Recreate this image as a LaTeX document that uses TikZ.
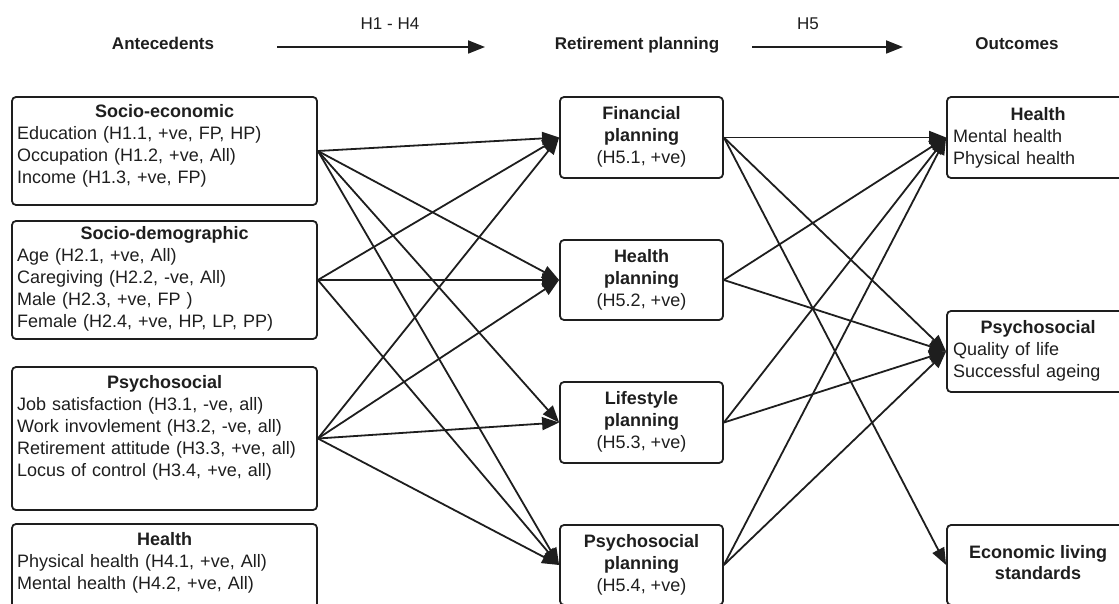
\documentclass[tikz,border=0pt]{standalone}
\usepackage{fontspec}
\setmainfont{Liberation Sans}
\usetikzlibrary{arrows.meta}
\definecolor{ink}{HTML}{1E1E1E}
\begin{document}
\begin{tikzpicture}[x=1pt,y=-1pt,
  box/.style={draw=ink, line width=1.8pt, rounded corners=4pt, inner sep=0pt},
  txt/.style={inner sep=0pt, text=ink, font=\fontsize{18}{22}\selectfont},
  head/.style={inner sep=0pt, text=ink, font=\fontsize{17}{20}\selectfont},
  arr/.style={draw=ink, line width=1.8pt, -{Triangle[length=17pt,width=13pt]}}]
\useasboundingbox (0,0) rectangle (1119,604);
\clip (0,0) rectangle (1119,604);
% header
\node[head, anchor=base] (hA) at (163,50) {\bfseries Antecedents};
\node[head, anchor=base] (hR) at (637,50) {\bfseries Retirement planning};
\node[head, anchor=base] (hO) at (1017,50) {\bfseries Outcomes};
\node[head, anchor=base] (hH14) at (390,30) {H1 - H4};
\node[head, anchor=base] (hH5) at (808,30) {H5};
\coordinate (a1s) at (277,47);
\coordinate (a1e) at (485,47);
\coordinate (a2s) at (752,47);
\coordinate (a2e) at (903,47);
\draw[arr] (a1s) -- (a1e);
\draw[arr] (a2s) -- (a2e);
% left boxes
\node[box, minimum width=305pt, minimum height=108pt] (se) at (164.5,151) {};
\node[box, minimum width=305pt, minimum height=118pt] (sd) at (164.5,280) {};
\node[box, minimum width=305pt, minimum height=143pt] (ps) at (164.5,438.5) {};
\node[box, minimum width=305pt, minimum height=86pt] (he) at (164.5,567) {};
\node[txt, anchor=north west, text width=295pt, align=left] (se-t) at (17,104)
  {\makebox[295pt]{\bfseries Socio-economic}\\Education (H1.1, +ve, FP, HP)\\Occupation (H1.2, +ve, All)\\Income (H1.3, +ve, FP)};
\node[txt, anchor=north west, text width=295pt, align=left] (sd-t) at (17,226)
  {\makebox[295pt]{\bfseries Socio-demographic}\\Age (H2.1, +ve, All)\\Caregiving (H2.2, -ve, All)\\Male (H2.3, +ve, FP )\\Female (H2.4, +ve, HP, LP, PP)};
\node[txt, anchor=north west, text width=295pt, align=left] (ps-t) at (17,375)
  {\makebox[295pt]{\bfseries Psychosocial}\\Job satisfaction (H3.1, -ve, all)\\Work invovlement (H3.2, -ve, all)\\Retirement attitude (H3.3, +ve, all)\\Locus of control (H3.4, +ve, all)};
\node[txt, anchor=north west, text width=295pt, align=left] (he-t) at (17,532)
  {\makebox[295pt]{\bfseries Health}\\Physical health (H4.1, +ve, All)\\Mental health (H4.2, +ve, All)};
% middle boxes
\node[box, minimum width=163pt, minimum height=81pt] (fp) at (641.5,137.5) {};
\node[box, minimum width=163pt, minimum height=80pt] (hp) at (641.5,280) {};
\node[box, minimum width=163pt, minimum height=81pt] (lp) at (641.5,422.5) {};
\node[box, minimum width=163pt, minimum height=80pt] (pp) at (641.5,565) {};
\node[txt, anchor=north, align=center] (fp-t) at (641.5,106) {\textbf{Financial}\\\textbf{planning}\\(H5.1, +ve)};
\node[txt, anchor=north, align=center] (hp-t) at (641.5,249) {\textbf{Health}\\\textbf{planning}\\(H5.2, +ve)};
\node[txt, anchor=north, align=center] (lp-t) at (641.5,391) {\textbf{Lifestyle}\\\textbf{planning}\\(H5.3, +ve)};
\node[txt, anchor=north, align=center] (pp-t) at (641.5,534) {\textbf{Psychosocial}\\\textbf{planning}\\(H5.4, +ve)};
% right boxes
\node[box, minimum width=182pt, minimum height=81pt] (oh) at (1038,137.5) {};
\node[box, minimum width=182pt, minimum height=81pt] (op) at (1038,351.5) {};
\node[box, minimum width=182pt, minimum height=80pt] (oe) at (1038,565) {};
\node[txt, anchor=north west, text width=170pt, align=left] (oh-t) at (953,107)
  {\makebox[170pt]{\bfseries Health}\\Mental health\\Physical health};
\node[txt, anchor=north west, text width=170pt, align=left] (op-t) at (953,320)
  {\makebox[170pt]{\bfseries Psychosocial}\\Quality of life\\Successful ageing};
\node[txt, anchor=north, align=center, font=\fontsize{18}{21}\selectfont\bfseries] (oe-t) at (1038,545)
  {Economic living\\standards};
% connectors left -> middle
\draw[arr] (se.east) -- (fp.west);
\draw[arr] (se.east) -- (hp.west);
\draw[arr] (se.east) -- (lp.west);
\draw[arr] (se.east) -- (pp.west);
\draw[arr] (sd.east) -- (fp.west);
\draw[arr] (sd.east) -- (hp.west);
\draw[arr] (sd.east) -- (pp.west);
\draw[arr] (ps.east) -- (fp.west);
\draw[arr] (ps.east) -- (hp.west);
\draw[arr] (ps.east) -- (lp.west);
\draw[arr] (ps.east) -- (pp.west);
% connectors middle -> right
\draw[arr] (fp.east) -- (oh.west);
\draw[arr] (fp.east) -- (op.west);
\draw[arr] (fp.east) -- (oe.west);
\draw[arr] (hp.east) -- (oh.west);
\draw[arr] (hp.east) -- (op.west);
\draw[arr] (lp.east) -- (oh.west);
\draw[arr] (lp.east) -- (op.west);
\draw[arr] (pp.east) -- (oh.west);
\draw[arr] (pp.east) -- (op.west);
\end{tikzpicture}
\end{document}
